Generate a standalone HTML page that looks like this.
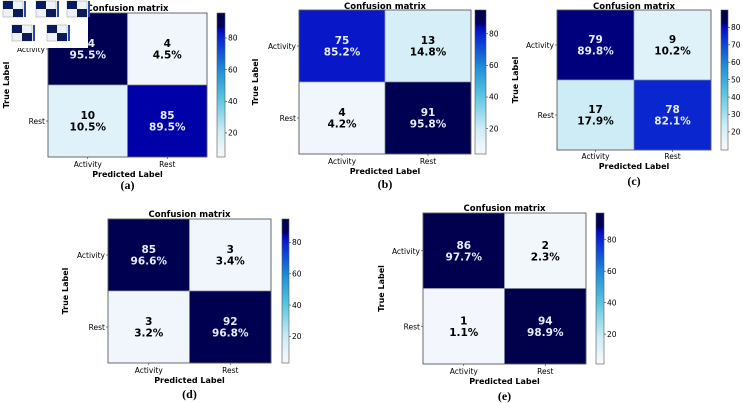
<!DOCTYPE html>
<html><head><meta charset="utf-8"><style>
html,body{margin:0;padding:0;background:#fff;width:743px;height:403px;overflow:hidden}
svg{display:block;font-family:"DejaVu Sans","Liberation Sans",sans-serif}
</style></head><body>
<svg id="fig" width="743" height="403" viewBox="0 0 743 403" xmlns="http://www.w3.org/2000/svg"></svg>
<script>
// data
const classLabels = ["Activity","Rest"];
const panelTags = ["(a)","(b)","(c)","(d)","(e)"];
const countsA = [84,4,10,85];
const countsB = [75,13,4,91];
const countsC = [79,9,17,78];
const countsD = [85,3,3,92];
const countsE = [86,2,1,94];
const pctA = ["95.5%","4.5%","10.5%","89.5%"];
const pctB = ["85.2%","14.8%","4.2%","95.8%"];
const pctC = ["89.8%","10.2%","17.9%","82.1%"];
const pctD = ["96.6%","3.4%","3.2%","96.8%"];
const pctE = ["97.7%","2.3%","1.1%","98.9%"];
const cbarTicksA = [20,40,60,80];
const cbarTicksC = [20,30,40,50,60,70,80];
const cbarRangeA = [4.8,95.8];
const cbarRangeB = [4,95];
const cbarRangeC = [9.6,90];
const cbarRangeD = [3,95];
const cbarRangeE = [1,97];

const layouts = [
 {x0:48,x1:207,y0:13,y1:157,cx0:217,cx1:225,yl:6,xt:164,xl:174,tag:185,tt:8},
 {x0:299,x1:471,y0:10,y1:154,cx0:475,cx1:486,yl:255,xt:161,xl:171,tag:184,tt:6},
 {x0:557,x1:711,y0:10,y1:150,cx0:721,cx1:728,yl:515,xt:156,xl:166,tag:181,tt:6},
 {x0:108,x1:271,y0:219,y1:363,cx0:282,cx1:289,yl:65,xt:370,xl:380,tag:394,tt:214},
 {x0:423,x1:586,y0:213,y1:364,cx0:596,cx1:604,yl:381,xt:371,xl:381,tag:396,tt:208}
];
const panels = [
 {counts:countsA,pct:pctA,ticks:cbarTicksA,range:cbarRangeA},
 {counts:countsB,pct:pctB,ticks:cbarTicksA,range:cbarRangeB},
 {counts:countsC,pct:pctC,ticks:cbarTicksC,range:cbarRangeC},
 {counts:countsD,pct:pctD,ticks:cbarTicksA,range:cbarRangeD},
 {counts:countsE,pct:pctE,ticks:cbarTicksA,range:cbarRangeE}
];
const stops=[[0,"#f4f8fd"],[0.06,"#eef5fb"],[0.1,"#e0f2f9"],[0.18,"#cdecf6"],[0.4,"#5cc6e0"],[0.6,"#1e90d8"],[0.8,"#0a30d4"],[0.85,"#0818c8"],[0.895,"#0000a8"],[0.9,"#000060"],[1,"#000048"]];
function hex(h){return [1,3,5].map(i=>parseInt(h.substr(i,2),16));}
function cmap(t){t=Math.max(0,Math.min(1,t));for(let i=1;i<stops.length;i++){if(t<=stops[i][0]){const a=stops[i-1],b=stops[i];const f=(t-a[0])/(b[0]-a[0]);const ca=hex(a[1]),cb=hex(b[1]);return "rgb("+ca.map((v,k)=>Math.round(v+(cb[k]-v)*f)).join(",")+")";}}return stops[stops.length-1][1];}
const NS="http://www.w3.org/2000/svg";
const svg=document.getElementById('fig');
function el(tag,attrs,parent,txt){const e=document.createElementNS(NS,tag);for(const k in attrs)e.setAttribute(k,attrs[k]);if(txt!==undefined)e.textContent=txt;(parent||svg).appendChild(e);return e;}
const defs=el('defs',{});
const grad=el('linearGradient',{id:'cb',x1:0,y1:1,x2:0,y2:0},defs);
stops.forEach(s=>el('stop',{offset:s[0],'stop-color':s[1]},grad));

panels.forEach((p,pi)=>{
 const L=layouts[pi];
 const g=el('g',{});
 
 
 const cw=(L.x1-L.x0)/2, ch=(L.y1-L.y0)/2;
 const xs=i=>L.x0+i*cw, ys=j=>L.y0+j*ch;
 p.counts.forEach((v,k)=>{
  const r=Math.floor(k/2),c=k%2;
  const pv=parseFloat(p.pct[k]);
  const t=pv/100;
  const rect=el('rect',{x:xs(c),y:ys(r),width:cw,height:ch,fill:cmap(t),stroke:'#8a93a3','stroke-width':0.6},g);
  
  
  const col=t>0.6?'#e8eef8':'#000';
  const tx=xs(c)+cw/2, ty=ys(r)+ch/2;
  const t1=el('text',{x:tx,y:ty-2,'text-anchor':'middle','font-size':10.5,'font-weight':'bold',fill:col},g,String(v));
  
  
  const t2=el('text',{x:tx,y:ty+9.5,'text-anchor':'middle','font-size':10.5,'font-weight':'bold',fill:col},g,p.pct[k]);
  
  
 });
 el('rect',{x:L.x0,y:L.y0,width:L.x1-L.x0,height:L.y1-L.y0,fill:'none',stroke:'#555','stroke-width':0.8},g);
 const ti=el('text',{x:(L.x0+L.x1)/2,y:L.tt+3,'text-anchor':'middle','font-size':8.5,'font-weight':'bold'},g,'Confusion matrix');
 
 
 classLabels.forEach((lab,i)=>{
  const cxp=xs(i)+cw/2, cyp=ys(i)+ch/2;
  el('line',{x1:cxp,x2:cxp,y1:L.y1,y2:L.y1+2,stroke:'#333','stroke-width':0.6},g);
  const xt=el('text',{x:cxp,y:L.xt+3,'text-anchor':'middle','font-size':7.5},g,lab);
  
  
  el('line',{x1:L.x0-2,x2:L.x0,y1:cyp,y2:cyp,stroke:'#333','stroke-width':0.6},g);
  const yt=el('text',{x:L.x0-3,y:cyp+3,'text-anchor':'end','font-size':7.5},g,lab);
  
  
 });
 const xl=el('text',{x:(L.x0+L.x1)/2,y:L.xl+3,'text-anchor':'middle','font-size':8,'font-weight':'bold'},g,'Predicted Label');
 
 
 const ymid=(L.y0+L.y1)/2;
 const yl=el('text',{x:L.yl+3,y:ymid,'text-anchor':'middle','font-size':8,'font-weight':'bold',transform:'rotate(-90 '+(L.yl+3)+' '+ymid+')'},g,'True Label');
 
 
 const tg=el('text',{x:(L.x0+L.x1)/2,y:L.tag+4,'text-anchor':'middle','font-size':12,'font-weight':'bold','font-family':'"Liberation Serif",serif'},g,panelTags[pi]);
 
 
 // colorbar
 const cb=el('rect',{x:L.cx0,y:L.y0,width:L.cx1-L.cx0,height:L.y1-L.y0,fill:'url(#cb)',stroke:'#555','stroke-width':0.6},g);
 
 
 const [vmin,vmax]=p.range;
 const cy=v=>L.y1-(v-vmin)/(vmax-vmin)*(L.y1-L.y0);
 p.ticks.forEach(v=>{
  el('line',{x1:L.cx1,x2:L.cx1+2,y1:cy(v),y2:cy(v),stroke:'#333','stroke-width':0.6},g);
  const ct=el('text',{x:L.cx1+3,y:cy(v)+2.7,'font-size':7.5},g,String(v));
  
  
 });
});

// thumbnail overlay top-left
const th=el('g',{});


el('rect',{x:0,y:0,width:88,height:48,fill:'#fff'},th);
[[1,0],[34,0],[65,0],[10,24],[45,24]].forEach(([x,y])=>{
 el('rect',{x:x+2,y:y+1,width:20,height:16,fill:'#eef3f8',stroke:'#999','stroke-width':0.5},th);
 el('rect',{x:x+2,y:y+1,width:10,height:8,fill:'#0a1a5a'},th);
 el('rect',{x:x+12,y:y+9,width:10,height:8,fill:'#0a1a5a'},th);
 el('rect',{x:x+23,y:y+1,width:2,height:16,fill:'#2a4aa0'},th);
});
</script>
</body></html>
